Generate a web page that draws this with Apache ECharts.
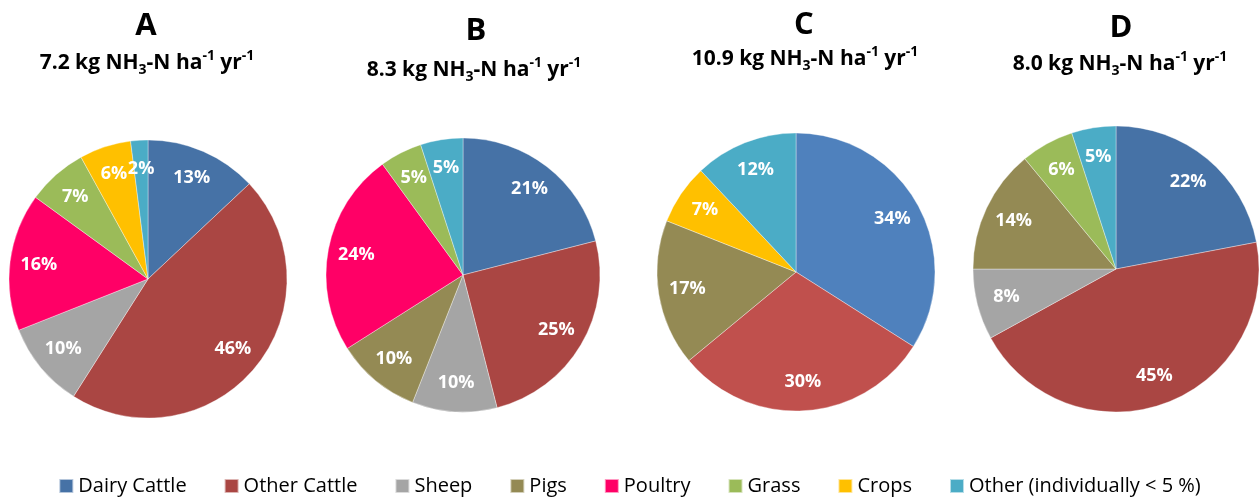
<!DOCTYPE html>
<html>
<head>
<meta charset="utf-8">
<script src="https://cdn.jsdelivr.net/npm/echarts@6/dist/echarts.min.js"></script>
<style>
  html, body { margin: 0; padding: 0; background: #fff; }
  #chart { width: 1259px; height: 497px; }
</style>
</head>
<body>
<div id="chart"></div>
<script>
const FONT = 'Open Sans';

// categories, in the clockwise order Excel draws them from 12 o'clock
const categories = ['Dairy Cattle', 'Other Cattle', 'Sheep', 'Pigs', 'Poultry', 'Grass', 'Crops', 'Other (individually < 5 %)'];
const colors = ['#4672A6', '#AA4643', '#A5A5A5', '#948A54', '#FF0066', '#9BBB59', '#FFC000', '#4BACC6'];
const colorsC = ['#4F81BD', '#C0504D', '#A5A5A5', '#948A54', '#FF0066', '#9BBB59', '#FFC000', '#4BACC6'];

// shares in percent per panel
const valuesA = [13, 46, 10, 0, 16, 7, 6, 2];
const valuesB = [21, 25, 10, 10, 24, 5, 0, 5];
const valuesC = [34, 30, 0, 17, 0, 0, 7, 12];
const valuesD = [22, 45, 8, 14, 0, 6, 0, 5];

const panelLetters = ['A', 'B', 'C', 'D'];
const panelTotals = ['7.2', '8.3', '10.9', '8.0'];

// layout for each panel (pixels)
const panels = [
  { values: valuesA, colors: colors,  center: [148, 279], r: 139, letter: [146, 26], sub: [147, 63] },
  { values: valuesB, colors: colors,  center: [463, 275], r: 137, letter: [476, 31], sub: [474, 70] },
  { values: valuesC, colors: colorsC, center: [796, 272], r: 139, letter: [804, 25], sub: [805, 59] },
  { values: valuesD, colors: colors,  center: [1116, 269], r: 143, letter: [1121, 28], sub: [1120, 64] }
];

function buildData(p, transparent) {
  const out = [];
  p.values.forEach((v, i) => {
    if (v > 0) {
      out.push({
        name: categories[i],
        value: v,
        itemStyle: { color: transparent ? 'rgba(0,0,0,0)' : p.colors[i] }
      });
    }
  });
  return out;
}

const titles = [];
const fills = [];
const labels = [];
panels.forEach((p, k) => {
  titles.push({
    text: panelLetters[k],
    left: p.letter[0],
    top: p.letter[1] - 18,
    textAlign: 'center',
    padding: 0,
    textStyle: { fontFamily: FONT, fontSize: 31, fontWeight: 'bold', color: '#000', lineHeight: 36 }
  });
  titles.push({
    text: panelTotals[k] + ' kg NH{sub|3}-N ha{sup|-1} yr{sup|-1}',
    left: p.sub[0],
    top: p.sub[1] - 14,
    textAlign: 'center',
    padding: 0,
    textStyle: {
      fontFamily: FONT, fontSize: 21, fontWeight: 'bold', color: '#000', lineHeight: 28,
      rich: {
        sub: { fontFamily: FONT, fontSize: 14, fontWeight: 'bold', color: '#000', lineHeight: 14, verticalAlign: 'bottom' },
        sup: { fontFamily: FONT, fontSize: 14, fontWeight: 'bold', color: '#000', lineHeight: 14, verticalAlign: 'top' }
      }
    }
  });
  fills.push({
    type: 'pie',
    center: p.center,
    radius: p.r,
    startAngle: 90,
    clockwise: true,
    label: { show: false },
    labelLine: { show: false },
    itemStyle: { borderColor: 'rgba(255,255,255,0.6)', borderWidth: 0.6 },
    emphasis: { scale: false },
    data: buildData(p, false)
  });
  // label-only ring so the percentages sit at ~0.77 of the radius
  labels.push({
    type: 'pie',
    center: p.center,
    radius: [p.r * 0.54, p.r],
    startAngle: 90,
    clockwise: true,
    silent: true,
    label: {
      show: true,
      position: 'inside',
      formatter: '{c}%',
      color: '#fff',
      fontFamily: FONT,
      fontWeight: 'bold',
      fontSize: 18
    },
    labelLine: { show: false },
    data: buildData(p, true)
  });
});

const chart = echarts.init(document.getElementById('chart'));
chart.setOption({
  animation: false,
  backgroundColor: '#fff',
  title: titles,
  legend: {
    top: 474,
    left: 'center',
    padding: 0,
    icon: 'rect',
    itemWidth: 14,
    itemHeight: 14,
    itemGap: 37,
    selectedMode: false,
    textStyle: { fontFamily: FONT, fontSize: 20, lineHeight: 24, color: '#000' },
    data: categories.map((c, i) => ({ name: c, itemStyle: { color: colors[i] } }))
  },
  series: fills.concat(labels)
});
</script>
</body>
</html>
